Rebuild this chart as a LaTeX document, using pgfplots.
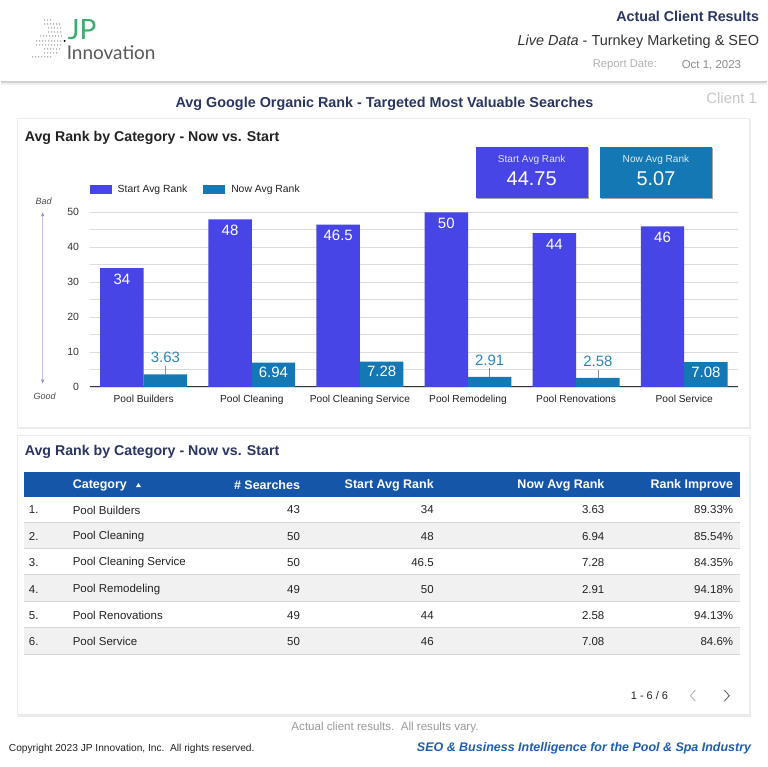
\documentclass[border=0pt]{standalone}
\usepackage{fontspec}
\setmainfont{Liberation Sans}
\newfontfamily\logofont{Lato}
\usepackage{pgfplots}
\pgfplotsset{compat=1.18}
\usetikzlibrary{arrows.meta}
\definecolor{startc}{HTML}{4745E6}
\definecolor{nowc}{HTML}{1478B4}
\definecolor{navy}{HTML}{2A3563}
\definecolor{hdrblue}{HTML}{1656A9}
\definecolor{tealtxt}{HTML}{2D86B8}
\definecolor{footblue}{HTML}{1F5DB0}
\definecolor{logogreen}{HTML}{3DAA6E}
\definecolor{txt}{HTML}{222222}
\definecolor{rowgray}{HTML}{F1F1F1}
\definecolor{sepgray}{HTML}{D6D6D6}
\newcommand\fs[1]{\fontsize{#1}{#1}\selectfont}
\newcommand\T[5]{\node[anchor=#1, inner sep=0pt, font=#4] at (#2,#3) {#5};}
\begin{document}
\begin{tikzpicture}
\begin{scope}[x=1pt,y=-1pt,yshift=768pt]
\fill[white] (0,0) rectangle (768,768);
% ---------- logo ----------
\foreach \yy/\xa/\xb in {20/44/52,24/44/60,28/48/62,32/48/62,36/40/62,41/36/60,45/36/60,49/44/60,53/44/58,57/32/50}{
  \foreach \xx in {\xa,...,\xb}{\pgfmathparse{mod(\xx-\xa,3)==0?1:0}\ifnum\pgfmathresult=1 \fill[black!40] (\xx,\yy) circle (0.75);\fi}}
\fill[black] (64,41) circle (1.1);
\T{west}{67}{30}{\logofont\fs{28}\color{logogreen}}{JP}
\T{west}{66}{53}{\logofont\fs{19}\color{black!65}}{Innovation}
% ---------- header right ----------
\T{east}{760}{16}{\bfseries\fs{14.3}\color{navy}}{Actual Client Results}
\T{east}{760}{42}{\fs{14.5}\color{black!80}}{{\itshape Live Data} - Turnkey Marketing \& SEO}
\T{west}{593}{65}{\fs{11.3}\color{black!30}}{Report Date:}
\T{east}{742}{65}{\fs{11.5}\color{black!45}}{Oct 1, 2023}
\fill[black!6] (0,83) rectangle (768,85);
\draw[black!18, line width=1.5pt] (0,82) -- (768,82);
\T{center}{384.5}{104.5}{\bfseries\fs{14.4}\color{navy}}{Avg Google Organic Rank - Targeted Most Valuable Searches}
\T{east}{758}{98}{\fs{15}\color{black!22}}{Client 1}
% ---------- card 1 ----------
\fill[black!8] (17,119.5) rectangle (751.5,430);
\draw[black!8, fill=white] (16,118) rectangle (750,428);
\T{west}{24}{138}{\bfseries\fs{14.2}\color{txt}}{Avg Rank by Category - Now vs. Start}
% KPI boxes
\fill[black!35] (477,148.5) rectangle (589,199);
\fill[startc] (476,147) rectangle (588,198);
\T{center}{532}{160}{\fs{10.1}\color{white!85!startc}}{Start Avg Rank}
\T{center}{532}{179}{\fs{20}\color{white}}{44.75}
\fill[black!35] (601,148.5) rectangle (714,199);
\fill[nowc] (600,147) rectangle (713,198);
\T{center}{656.5}{160}{\fs{10.1}\color{white!85!nowc}}{Now Avg Rank}
\T{center}{656.5}{179}{\fs{20}\color{white}}{5.07}
% Bad / Good arrow
\draw[black!20!blue!25, line width=0.8pt, {Stealth[length=4pt,width=3.5pt,color=blue!40!black!45]}-{Stealth[length=4pt,width=3.5pt,color=blue!40!black!45]}] (42,213) -- (42,384);
\T{center}{43}{202}{\itshape\fs{9}\color{black!70}}{Bad}
\T{center}{44}{397}{\itshape\fs{9}\color{black!70}}{Good}
% ---------- card 2 ----------
\fill[black!8] (17,437.5) rectangle (751.5,718);
\draw[black!8, fill=white] (16,436) rectangle (750,716);
\T{west}{24}{453}{\bfseries\fs{14.2}\color{navy}}{Avg Rank by Category - Now vs. Start}
\fill[hdrblue] (23,473) rectangle (741,498);
\T{west}{72}{486}{\bfseries\fs{12.5}\color{white}}{Category}
\fill[white] (135.5,488) -- (140.5,488) -- (138,484) -- cycle;
\T{east}{300}{486}{\bfseries\fs{12.5}\color{white}}{\# Searches}
\T{east}{434}{486}{\bfseries\fs{12.5}\color{white}}{Start Avg Rank}
\T{east}{605}{486}{\bfseries\fs{12.5}\color{white}}{Now Avg Rank}
\T{east}{734}{486}{\bfseries\fs{12.5}\color{white}}{Rank Improve}
\fill[rowgray] (23,523.3) rectangle (741,549.3);
\fill[rowgray] (23,576) rectangle (741,602.7);
\fill[rowgray] (23,628.7) rectangle (741,655.3);
\foreach \yy in {523.3,549.3,576,602.7,628.7,655.3}{\draw[sepgray, line width=1pt] (23,\yy) -- (741,\yy);}
\foreach \yy/\n/\cat/\s/\st/\nw/\imp in {
  511/1./Pool Builders/43/34/3.63/89.33\%,
  537.3/2./Pool Cleaning/50/48/6.94/85.54\%,
  563.7/3./Pool Cleaning Service/50/46.5/7.28/84.35\%,
  590.3/4./Pool Remodeling/49/50/2.91/94.18\%,
  616.7/5./Pool Renovations/49/44/2.58/94.13\%,
  643/6./Pool Service/50/46/7.08/84.6\%}{
  \T{west}{28}{\yy}{\fs{11.5}\color{txt}}{\n}
  \T{west}{72}{\yy}{\fs{11.5}\color{txt}}{\cat}
  \T{east}{300}{\yy}{\fs{11.5}\color{txt}}{\s}
  \T{east}{434}{\yy}{\fs{11.5}\color{txt}}{\st}
  \T{east}{605}{\yy}{\fs{11.5}\color{txt}}{\nw}
  \T{east}{734}{\yy}{\fs{11.5}\color{txt}}{\imp}
}
\T{center}{650}{697}{\fs{11}\color{txt}}{1 - 6 / 6}
\draw[black!30, line width=0.9pt] (696,691.5) -- (691,697) -- (696,702.5);
\draw[black!60, line width=0.9pt] (725,691.5) -- (730,697) -- (725,702.5);
% ---------- footer ----------
\T{center}{385}{729}{\fs{11.6}\color{black!40}}{Actual client results.\ \ All results vary.}
\T{west}{8}{750}{\fs{10.2}\color{txt}}{Copyright 2023 JP Innovation, Inc.\ \ All rights reserved.}
\T{east}{752}{750}{\bfseries\itshape\fs{12.5}\color{footblue}}{SEO \& Business Intelligence for the Pool \& Spa Industry}
\end{scope}
% ---------- chart ----------
\begin{axis}[
  at={(89pt,380.3pt)}, anchor=south west,
  scale only axis, width=650pt, height=175pt,
  xmin=-0.5, xmax=5.5, ymin=0, ymax=50,
  /pgf/number format/assume math mode=true,
  axis x line*=bottom, axis y line*=left,
  y axis line style={draw=none},
  x axis line style={draw=black!80, line width=1.1pt},
  major tick length=0pt, minor tick length=0pt,
  xtick={0,1,2,3,4,5},
  xticklabels={Pool Builders,Pool Cleaning,Pool Cleaning Service,Pool Remodeling,Pool Renovations,Pool Service},
  ytick={0,10,20,30,40,50},
  minor ytick={5,15,25,35,45},
  ymajorgrids, yminorgrids,
  major grid style={draw=black!14, line width=0.8pt},
  minor grid style={draw=black!14, line width=0.8pt},
  xticklabel style={font=\fs{10.2}, text=txt, yshift=-5pt},
  yticklabel style={font=\fs{10.5}, text=black!80, xshift=-7pt},
  legend style={at={(0,1.13)}, anchor=west, draw=none, fill=none, inner sep=0pt,
     legend columns=2, font=\fs{10.4}, text=txt,
     /tikz/every odd column/.append style={column sep=4pt},
     /tikz/every even column/.append style={column sep=14pt}},
  clip=false,
]
\addplot[ybar, bar width=43.5pt, bar shift=-21.75pt, fill=startc, draw=none,
  legend image code/.code={\fill[startc] (0pt,-4.5pt) rectangle (22pt,4.5pt);},
  nodes near coords,
  every node near coord/.append style={anchor=north, xshift=-21.75pt, yshift=-2pt, text=white, font=\fs{15}}]
  coordinates {(0,34) (1,48) (2,46.5) (3,50) (4,44) (5,46)};
\addlegendentry{Start Avg Rank}
\addplot[ybar, bar width=43.5pt, bar shift=21.75pt, fill=nowc, draw=none,
  legend image code/.code={\fill[nowc] (0pt,-4.5pt) rectangle (22pt,4.5pt);}]
  coordinates {(0,3.63) (1,6.94) (2,7.28) (3,2.91) (4,2.58) (5,7.08)};
\addlegendentry{Now Avg Rank}
% labels inside the taller "now" bars
\addplot[ybar, bar width=43.5pt, bar shift=21.75pt, fill=none, draw=none, forget plot,
  nodes near coords,
  every node near coord/.append style={anchor=north, xshift=21.75pt, yshift=-1pt, text=white, font=\fs{15}}]
  coordinates {(1,6.94) (2,7.28) (5,7.08)};
% labels above the short "now" bars, with leader line
\addplot[ybar, bar width=43.5pt, bar shift=21.75pt, fill=none, draw=none, forget plot,
  nodes near coords,
  every node near coord/.append style={anchor=south, xshift=21.75pt, yshift=8pt, text=tealtxt, font=\fs{15}},
  error bars/.cd, y dir=plus, y explicit, error mark=none,
  error bar style={draw=black!45, line width=0.6pt, xshift=21.75pt}]
  coordinates {(0,3.63) +- (0,2.4) (3,2.91) +- (0,2.4) (4,2.58) +- (0,2.4)};
\end{axis}
\end{tikzpicture}
\end{document}
